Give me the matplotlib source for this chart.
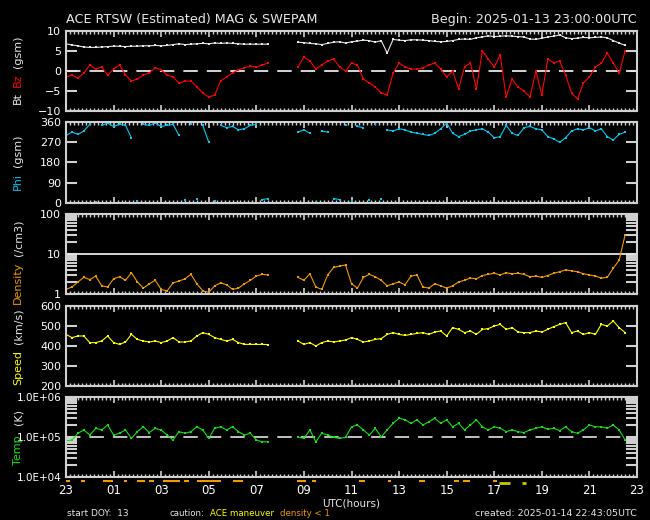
import numpy as np
import matplotlib
matplotlib.use("Agg")
import matplotlib.pyplot as plt
from matplotlib.ticker import FixedLocator, MultipleLocator, NullFormatter, FixedFormatter

nan = np.nan
STEP_H = 0.25  # samples every 15 min, hours after 2025-01-13 23:00 UTC

# --- data (gap 07:40-08:45 UTC) ---
bt = [6.8, 6.5, 6.3, 6.0, 5.9, 5.9, 6.0, 6.1, 6.2, 6.2,
      6.1, 6.2, 6.2, 6.3, 6.3, 6.4, 6.3, 6.4, 6.6, 6.8,
      6.6, 6.7, 6.8, 6.9, 6.8, 7.0, 6.9, 7.0, 6.9, 6.8,
      6.7, 6.7, 6.7, 6.7, 6.7,
      nan, nan, nan, nan,
      7.2, 7.1, 6.9, 6.8, 6.6, 6.9, 7.2, 7.3, 7.0, 7.3,
      7.5, 7.7, 7.6, 7.2, 7.6, 4.5, 7.9, 7.7, 7.6, 7.8,
      7.8, 7.7, 7.6, 7.4, 7.3, 7.4, 7.6, 7.9, 8.0, 7.9,
      8.3, 8.5, 8.8, 8.6, 8.7, 8.8, 8.7, 8.6, 8.5, 8.0,
      7.9, 8.2, 8.5, 8.7, 9.0, 8.3, 8.1, 8.2, 8.4, 8.3,
      8.4, 8.5, 8.3, 7.6, 7.0, 6.4]

bz = [-1.5, -1.0, -1.8, -0.5, 1.5, 0.5, 1.0, -1.0, 0.5, 1.5,
      -1.0, -2.5, -2.0, -1.0, -0.5, 0.8, 0.3, -1.0, -1.5, -3.0,
      -2.5, -2.5, -4.0, -5.5, -6.5, -6.0, -2.5, -1.5, -0.5, 0.3,
      0.8, 1.2, 1.0, 1.5, 2.0,
      nan, nan, nan, nan,
      1.0, 3.5, 2.5, 0.5, 1.5, 2.5, 3.0, 1.0, 0.0, 2.0,
      1.5, -2.0, -3.0, -4.0, -5.5, -6.0, -0.5, 2.0, 1.0, 0.5,
      0.5, 0.8, 1.5, 2.0, 0.5, -1.5, 0.0, -4.5, 1.0, 2.0,
      -4.5, 5.0, 3.0, 1.0, 4.0, -6.5, -2.0, -4.0, -5.0, -6.5,
      0.0, -6.0, 3.0, 2.0, 2.5, -1.0, -5.5, -7.0, -3.0, -1.5,
      1.0, 2.0, 4.5, 2.0, -0.5, 5.0]

phi = [300, 315, 305, 320, 350, 5, 345, 355, 340, 350,
       345, 290, 10, 350, 345, 355, 340, 345, 350, 300,
       15, 350, 20, 345, 270, 10, 345, 335, 340, 325,
       330, 345, 350, 15, 20,
       nan, nan, nan, nan,
       315, 325, 310, 5, 320, 315, 20, 15, 345, 10,
       340, 335, 15, 350, 20, 325, 320, 330, 325, 315,
       310, 305, 300, 310, 330, 355, 310, 295, 305, 320,
       325, 330, 315, 290, 295, 345, 310, 300, 335, 340,
       330, 325, 295, 285, 270, 290, 320, 330, 325, 335,
       320, 330, 295, 280, 305, 315]

density = [1.3, 1.5, 2.0, 2.6, 2.3, 2.8, 1.6, 1.5, 2.4, 2.7,
           2.2, 3.4, 2.0, 1.4, 1.8, 2.2, 1.3, 1.2, 1.9, 2.1,
           2.4, 3.1, 1.8, 1.2, 1.1, 1.6, 1.9, 1.7, 1.3, 1.4,
           1.8, 2.2, 2.8, 3.1, 3.0,
           nan, nan, nan, nan,
           2.6, 2.2, 3.2, 1.5, 1.3, 3.0, 4.6, 5.0, 5.3, 1.8,
           1.4, 2.6, 3.1, 2.7, 2.2, 1.6, 1.8, 2.0, 1.7, 2.8,
           3.0, 1.5, 1.4, 1.8, 1.6, 1.4, 1.6, 2.0, 2.2, 2.5,
           2.4, 2.9, 3.1, 3.3, 3.0, 3.4, 3.2, 3.3, 3.1, 2.7,
           2.8, 2.6, 2.9, 3.3, 3.6, 4.0, 3.8, 3.6, 3.2, 3.0,
           2.8, 2.5, 2.6, 4.4, 7.0, 30.0]

speed = [458, 442, 450, 450, 417, 417, 425, 450, 417, 408,
         420, 458, 433, 425, 420, 425, 417, 425, 442, 420,
         420, 425, 450, 467, 458, 442, 433, 425, 433, 417,
         408, 408, 408, 408, 407,
         nan, nan, nan, nan,
         425, 408, 417, 400, 417, 425, 420, 425, 430, 442,
         433, 420, 425, 433, 437, 458, 467, 458, 453, 458,
         463, 467, 458, 470, 475, 450, 492, 483, 467, 475,
         458, 483, 487, 500, 508, 483, 492, 470, 467, 467,
         475, 470, 483, 497, 508, 517, 467, 475, 458, 467,
         458, 508, 500, 525, 492, 467]

# temperature in units of 1e5 K
temp_e5 = [0.80, 0.84, 1.24, 1.50, 1.12, 1.65, 1.50, 2.00, 1.12, 1.24,
           1.50, 0.92, 1.36, 1.80, 1.29, 1.65, 1.50, 1.12, 0.84, 1.36,
           1.24, 1.36, 1.80, 1.50, 0.92, 1.65, 1.80, 1.50, 1.80, 1.36,
           1.12, 1.24, 0.84, 0.76, 0.76,
           nan, nan, nan, nan,
           1.00, 0.92, 1.50, 0.76, 1.24, 1.12, 0.98, 0.92, 0.98, 1.80,
           2.00, 1.50, 1.12, 1.65, 1.00, 1.50, 2.20, 2.95, 2.70, 2.20,
           2.70, 2.00, 2.40, 2.95, 2.20, 2.70, 1.80, 2.20, 1.50, 2.00,
           2.70, 1.80, 1.50, 1.80, 1.65, 1.36, 1.50, 1.36, 1.29, 1.50,
           1.65, 1.80, 1.56, 1.65, 1.44, 1.80, 1.36, 1.24, 1.50, 2.00,
           1.80, 1.80, 1.65, 2.00, 1.50, 0.84]

hour_labels = ["23", "01", "03", "05", "07", "09", "11", "13",
               "15", "17", "19", "21", "23"]

# caution flags (start, end) in hours
low_density_spans = [(0.0, 0.15), (0.63, 0.78), (1.57, 1.96), (2.45, 2.55),
                     (2.98, 3.3), (3.5, 3.7), (4.08, 4.78), (4.94, 5.18),
                     (5.5, 6.5), (7.0, 7.45), (9.7, 10.1), (10.35, 10.5),
                     (12.3, 12.55), (13.55, 13.65), (14.85, 15.1),
                     (16.3, 16.5), (16.7, 17.0), (17.95, 18.1)]
maneuver_spans = [(18.2, 18.65), (19.15, 19.35)]

WHITE = "#e6e6e6"
GREY = "#d0d0d0"
RED = "#ff0000"
CYAN = "#00c8f0"
ORANGE = "#f09a00"
YELLOW = "#ffff00"
GREEN = "#10e010"

plt.rcParams['font.family'] = ['DejaVu Sans']
W, H = 650, 520
fig = plt.figure(figsize=(W / 100, H / 100), dpi=100, facecolor="black")

# panel tops/bottoms in pixels from top of image
panel_px = [(31, 111), (122, 203), (214, 294), (306, 386), (397, 477)]
left_px, right_px = 66, 637
axes = []
for top, bot in panel_px:
    ax = fig.add_axes([left_px / W, (H - bot) / H, (right_px - left_px) / W, (bot - top) / H])
    ax.set_facecolor("black")
    ax.set_xlim(0, 24)
    for sp in ax.spines.values():
        sp.set_color(GREY)
        sp.set_linewidth(1.5)
    ax.xaxis.set_major_locator(MultipleLocator(2))
    ax.xaxis.set_minor_locator(MultipleLocator(1 / 6))
    ax.tick_params(axis='x', which='both', direction='in', top=True, bottom=True,
                   colors=GREY, labelbottom=False)
    ax.tick_params(axis='x', which='major', length=4, width=1.2)
    ax.tick_params(axis='x', which='minor', length=2, width=1)
    ax.tick_params(axis='y', which='both', direction='in', left=True, right=True,
                   colors=GREY, labelcolor='white', labelsize=8, length=8, width=1.5)
    axes.append(ax)


def trace(ax, y, color, lw=0.8):
    t = np.arange(len(y)) * STEP_H
    ax.plot(t, y, color=color, lw=lw, marker='s', ms=1.8, mew=0)


def trace_wrapped(ax, y, color):
    # break the line where the angle wraps round 0/360
    y = np.asarray(y, float)
    t = np.arange(len(y)) * STEP_H
    jumps = np.where(np.abs(np.diff(y)) > 180)[0] + 1
    ax.plot(np.insert(t, jumps, nan), np.insert(y, jumps, nan),
            color=color, lw=0.8, marker='s', ms=2.0, mew=0)


# panel 1: Bt / Bz
ax = axes[0]
ax.set_ylim(-10, 10)
ax.set_yticks([-10, -5, 0, 5, 10])
ax.axhline(0, color=WHITE, lw=1.3, dashes=(8, 5))
trace(ax, bz, RED)
trace(ax, bt, WHITE)

# panel 2: Phi
ax = axes[1]
ax.set_ylim(0, 360)
ax.set_yticks([0, 90, 180, 270, 360])
trace_wrapped(ax, phi, CYAN)

# panel 3: density (log)
ax = axes[2]
ax.set_yscale('log')
ax.set_ylim(1, 100)
ax.yaxis.set_major_locator(FixedLocator([1, 10, 100]))
ax.yaxis.set_major_formatter(FixedFormatter(["1", "10", "100"]))
ax.yaxis.set_minor_locator(FixedLocator([k * d for d in (1, 10) for k in range(2, 10)]))
ax.yaxis.set_minor_formatter(NullFormatter())
ax.axhline(10, color=WHITE, lw=1.3)
trace(ax, density, ORANGE)

# panel 4: speed
ax = axes[3]
ax.set_ylim(200, 600)
ax.set_yticks([200, 300, 400, 500, 600])
trace(ax, speed, YELLOW)

# panel 5: temperature (log)
ax = axes[4]
ax.set_yscale('log')
ax.set_ylim(1e4, 1e6)
ax.yaxis.set_major_locator(FixedLocator([1e4, 1e5, 1e6]))
ax.yaxis.set_major_formatter(FixedFormatter(["1.0E+04", "1.0E+05", "1.0E+06"]))
ax.yaxis.set_minor_locator(FixedLocator([k * d for d in (1e4, 1e5) for k in range(2, 10)]))
ax.yaxis.set_minor_formatter(NullFormatter())
ax.tick_params(axis='y', which='major', labelsize=7.5)
ax.axhline(1e5, color=GREY, lw=1.3, dashes=(8, 5))
trace(ax, np.array(temp_e5) * 1e5, GREEN)
ax.set_xticks(np.arange(0, 25, 2))
ax.set_xticklabels(hour_labels)
ax.tick_params(axis='x', which='major', labelbottom=True, labelcolor='white',
               labelsize=8.5, pad=5)

# caution flag bars just under the last panel
flag_tr = ax.get_xaxis_transform()
for a, b in low_density_spans:
    ax.plot([a, b], [-0.05, -0.05], transform=flag_tr, color=ORANGE, lw=1.5,
            clip_on=False, solid_capstyle='butt')
for a, b in maneuver_spans:
    ax.plot([a, b], [-0.08, -0.08], transform=flag_tr, color="#c8c800", lw=2,
            clip_on=False, solid_capstyle='butt')

renderer = fig.canvas.get_renderer()


# rotated multi-colour axis labels, stacked bottom to top
def side_label(x_px, yc_px, parts, size=8, gap=6):
    items = []
    for s, c in parts:
        t = fig.text(x_px / W, 0, s, color=c, rotation=90, fontsize=size,
                     ha='center', va='bottom')
        items.append((t, t.get_window_extent(renderer).height))
    total = sum(h for _, h in items) + gap * (len(items) - 1)
    y = (H - yc_px) - total / 2
    for t, h in items:
        t.set_y(y / H)
        y += h + gap


side_label(18, 70, [("Bt", WHITE), ("Bz", RED), ("(gsm)", WHITE)], gap=5)
side_label(18, 162, [("Phi", CYAN), ("(gsm)", WHITE)])
side_label(18, 262, [("Density", ORANGE), ("(/cm3)", WHITE)])
side_label(18, 347, [("Speed", YELLOW), ("(km/s)", WHITE)])
side_label(18, 437, [("Temp", GREEN), ("(K)", WHITE)], gap=11)


# a row of differently coloured words, left to right
def word_row(x_px, y_px, parts, size, gap=6):
    x = x_px
    for s, c in parts:
        t = fig.text(x / W, 1 - y_px / H, s, color=c, fontsize=size,
                     ha='left', va='center')
        x += t.get_window_extent(renderer).width + gap


# titles and footer
fig.text(left_px / W, 1 - 20 / H, "ACE RTSW (Estimated) MAG & SWEPAM", color=WHITE,
         fontsize=9.2, ha='left', va='center')
fig.text(right_px / W, 1 - 20 / H, "Begin: 2025-01-13 23:00:00UTC", color=WHITE,
         fontsize=9.2, ha='right', va='center')
fig.text(351 / W, 1 - 503 / H, "UTC(hours)", color=WHITE, fontsize=7.5,
         ha='center', va='center')
fig.text(67 / W, 1 - 513 / H, "start DOY:  13", color=WHITE, fontsize=6.5,
         ha='left', va='center')
word_row(169, 513, [("caution:", WHITE), ("ACE maneuver", YELLOW),
                    ("density < 1", ORANGE)], 6.2, gap=6)
fig.text(right_px / W, 1 - 513 / H, "created: 2025-01-14 22:43:05UTC", color=WHITE,
         fontsize=6.8, ha='right', va='center')

fig.savefig("out.png", dpi=100, facecolor="black")
